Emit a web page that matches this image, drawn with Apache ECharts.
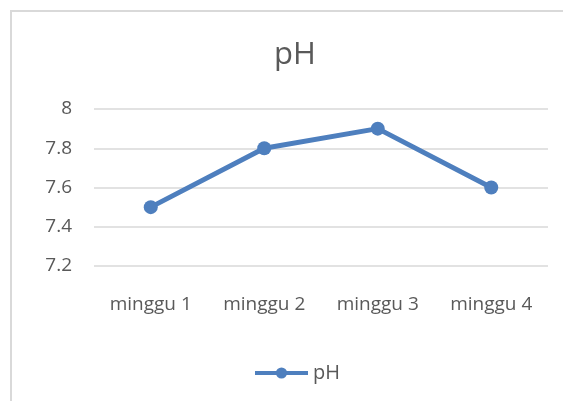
<!DOCTYPE html>
<html>
<head>
<meta charset="utf-8">
<script src="https://cdn.jsdelivr.net/npm/echarts@6/dist/echarts.min.js"></script>
<style>
  html, body { margin: 0; padding: 0; background: #ffffff; overflow: hidden; }
  #frame { position: absolute; left: 10px; top: 10px; width: 553px; height: 391px; border-left: 2px solid #d9d9d9; border-top: 2px solid #d9d9d9; box-sizing: border-box; }
  #chart { position: absolute; left: 0; top: 0; width: 563px; height: 401px; }
</style>
</head>
<body>
<div id="frame"></div>
<div id="chart"></div>
<script>
// data
var categories = ["minggu 1", "minggu 2", "minggu 3", "minggu 4"];
var phValues = [7.5, 7.8, 7.9, 7.6];
var seriesName = "pH";

var chart = echarts.init(document.getElementById("chart"));
var option = {
  backgroundColor: "transparent",
  title: {
    text: "pH",
    left: 269,
    top: 35,
    textStyle: { color: "#595959", fontSize: 31, fontWeight: "normal", fontFamily: "Open Sans" }
  },
  legend: {
    data: [seriesName],
    left: 248,
    top: 358,
    itemWidth: 53,
    itemHeight: 14,
    itemGap: 5,
    lineStyle: { width: 4 },
    textStyle: { color: "#595959", fontSize: 20, fontFamily: "Open Sans" }
  },
  grid: { left: 94, right: 15, top: 109, bottom: 135, containLabel: false },
  xAxis: {
    type: "category",
    data: categories,
    boundaryGap: true,
    axisLine: { show: false },
    axisTick: { show: false },
    axisLabel: { color: "#595959", fontSize: 19, fontFamily: "Open Sans", margin: 29 }
  },
  yAxis: {
    type: "value",
    min: 7.2,
    max: 8,
    interval: 0.2,
    axisLine: { show: false },
    axisTick: { show: false },
    splitLine: { lineStyle: { color: "#d9d9d9", width: 1.5 } },
    axisLabel: {
      color: "#595959", fontSize: 19, fontFamily: "Open Sans", margin: 22,
      formatter: function (v) { return String(Math.round(v * 10) / 10); }
    }
  },
  series: [{
    name: seriesName,
    type: "line",
    data: phValues,
    symbol: "circle",
    symbolSize: 14,
    lineStyle: { color: "#4e7fbe", width: 5 },
    itemStyle: { color: "#4e7fbe" }
  }]
};
chart.setOption(option);
</script>
</body>
</html>
